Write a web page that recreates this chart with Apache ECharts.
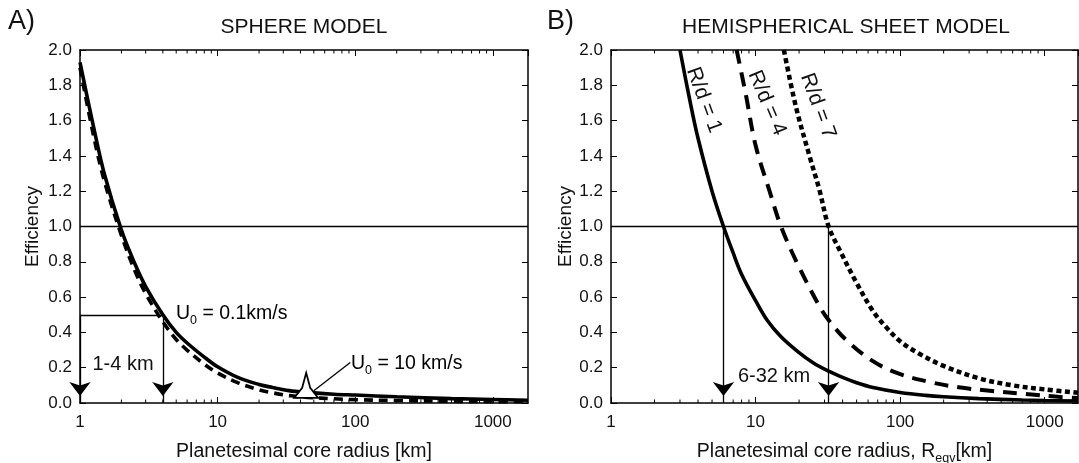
<!DOCTYPE html>
<html>
<head>
<meta charset="utf-8">
<script src="https://cdn.jsdelivr.net/npm/echarts@6/dist/echarts.min.js"></script>
<style>
  html, body { margin: 0; padding: 0; background: #fff; }
  #chart { width: 1079px; height: 463px; }
</style>
</head>
<body>
<div id="chart"></div>
<script>
// ---- panel A: sphere model ----
const radiusA = [1, 1.25, 1.5, 2, 2.5, 3, 4, 5, 6, 8, 10, 14, 20, 25, 33, 45, 70, 100, 200, 500, 1000, 1800];
const slowA = [1.93, 1.57, 1.3, 0.98, 0.79, 0.66, 0.5, 0.4, 0.34, 0.26, 0.205, 0.145, 0.105, 0.088, 0.07, 0.06, 0.05, 0.045, 0.035, 0.025, 0.02, 0.016]; // U0 = 0.1 km/s
const fastA = [1.9, 1.52, 1.26, 0.95, 0.75, 0.62, 0.46, 0.36, 0.3, 0.22, 0.17, 0.115, 0.075, 0.058, 0.042, 0.032, 0.024, 0.019, 0.014, 0.01, 0.008, 0.007]; // U0 = 10 km/s
const arrowsA = [1, 4];        // km, read at efficiency 0.5
const levelA = 0.5;
const starA = [44, 0.1];       // U0 = 10 km/s marker
const leaderA = [[50, 0.07], [92, 0.23]];

// ---- panel B: hemispherical sheet model ----
const radiusRd1 = [3, 3.5, 4, 5, 6, 7, 8, 10, 12, 15, 20, 25, 32, 40, 50, 65, 100, 150, 200, 350, 700, 1000, 1700];
const valuesRd1 = [2.0, 1.72, 1.5, 1.2, 1.0, 0.85, 0.73, 0.58, 0.47, 0.375, 0.285, 0.228, 0.18, 0.145, 0.115, 0.088, 0.06, 0.043, 0.035, 0.025, 0.017, 0.014, 0.011];
const radiusRd4 = [7.4, 8.6, 10, 12.5, 15, 20, 27.6, 32, 42, 64, 95, 158, 254, 433, 735, 1240, 1700];
const valuesRd4 = [2.0, 1.74, 1.46, 1.2, 1.0, 0.77, 0.55, 0.47, 0.36, 0.24, 0.17, 0.12, 0.089, 0.068, 0.051, 0.035, 0.028];
const radiusRd7 = [15.7, 19, 23.6, 27.6, 32, 38, 50, 65, 80, 100, 135, 200, 350, 600, 1000, 1700];
const valuesRd7 = [2.0, 1.68, 1.4, 1.21, 1.0, 0.87, 0.68, 0.52, 0.43, 0.35, 0.28, 0.21, 0.14, 0.10, 0.077, 0.058];
const arrowsB = [6, 32];       // km, read at efficiency 1.0

const minorTicks = [2, 3, 4, 5, 6, 7, 8, 9, 20, 30, 40, 50, 60, 70, 80, 90, 200, 300, 400, 500, 600, 700, 800, 900];
const maxA = 1800, maxB = 1700;

const font = 'Liberation Sans, Arial, Helvetica, sans-serif';
const ink = '#111';

function pairs(xs, ys) { return xs.map((x, i) => [x, ys[i]]); }

function xAxisFor(gridIndex, max, position) {
  return {
    type: 'log', logBase: 10, gridIndex, min: 1, max, position,
    axisLine: { show: true, onZero: false, lineStyle: { color: '#000', width: 1.5 } },
    axisTick: { show: true, inside: true, length: 6, lineStyle: { color: '#000', width: 1 } },
    axisLabel: {
      show: position === 'bottom', color: ink, fontSize: 17, fontFamily: font, margin: 11,
      formatter: v => String(Math.round(v))
    },
    splitLine: { show: false }
  };
}

function yAxisFor(gridIndex, position, nameGap) {
  return {
    type: 'value', gridIndex, min: 0, max: 2, interval: 0.2, position,
    axisLine: { show: true, lineStyle: { color: '#000', width: 1.5 } },
    axisTick: { show: true, inside: true, length: 6, lineStyle: { color: '#000', width: 1 } },
    axisLabel: { show: position === 'left', color: ink, fontSize: 17, fontFamily: font, margin: 8,
      formatter: v => v.toFixed(1) },
    splitLine: { show: false },
    name: position === 'left' ? 'Efficiency' : '',
    nameLocation: 'middle', nameGap,
    nameTextStyle: { color: ink, fontSize: 19, fontFamily: font }
  };
}

const subRich = {
  n: { fontSize: 19.5, fontFamily: font, color: ink, lineHeight: 26 },
  s: { fontSize: 12.5, fontFamily: font, color: ink, lineHeight: 12, verticalAlign: 'bottom' }
};

function minorTickSeries(xi, yi, max) {
  return {
    type: 'custom', xAxisIndex: xi, yAxisIndex: yi, silent: true, clip: false,
    data: minorTicks.filter(v => v < max).map(v => [v, 0]),
    renderItem: (params, api) => {
      const b = api.coord([api.value(0), 0]);
      const t = api.coord([api.value(0), 2]);
      return {
        type: 'group',
        children: [
          { type: 'line', shape: { x1: b[0], y1: b[1], x2: b[0], y2: b[1] - 3.5 }, style: { stroke: '#000', lineWidth: 1 } },
          { type: 'line', shape: { x1: t[0], y1: t[1], x2: t[0], y2: t[1] + 3.5 }, style: { stroke: '#000', lineWidth: 1 } }
        ]
      };
    }
  };
}

const arrowEnd = { symbol: 'arrow', symbolSize: [16, 14], symbolOffset: [0, '50%'] };

function curve(xi, yi, data, type, width) {
  return {
    type: 'line', xAxisIndex: xi, yAxisIndex: yi, data, smooth: 0.35,
    showSymbol: false, symbol: 'none', silent: true,
    lineStyle: { color: '#000', width, type, cap: 'butt' }
  };
}

const chart = echarts.init(document.getElementById('chart'), null, { renderer: 'canvas' });

const markLineStyle = { color: '#000', width: 1.3, type: 'solid' };

const seriesA1 = curve(0, 0, pairs(radiusA, slowA), 'solid', 3.6);
seriesA1.markLine = {
  silent: true, symbol: ['none', 'none'], label: { show: false }, lineStyle: markLineStyle, animation: false,
  data: [
    { yAxis: 1 },
    [{ coord: [arrowsA[0], levelA] }, { coord: [arrowsA[1], levelA] }],
    [{ coord: [arrowsA[0], levelA] }, Object.assign({ coord: [arrowsA[0], 0] }, arrowEnd)],
    [{ coord: [arrowsA[1], levelA] }, Object.assign({ coord: [arrowsA[1], 0] }, arrowEnd)],
    [{ coord: leaderA[0] }, { coord: leaderA[1] }]
  ]
};

const seriesB1 = curve(2, 2, pairs(radiusRd1, valuesRd1), 'solid', 3.6);
seriesB1.markLine = {
  silent: true, symbol: ['none', 'none'], label: { show: false }, lineStyle: markLineStyle, animation: false,
  data: [
    { yAxis: 1 },
    [{ coord: [arrowsB[0], 1] }, Object.assign({ coord: [arrowsB[0], 0] }, arrowEnd)],
    [{ coord: [arrowsB[1], 1] }, Object.assign({ coord: [arrowsB[1], 0] }, arrowEnd)]
  ]
};

chart.setOption({
  animation: false,
  backgroundColor: '#fff',
  grid: [
    { left: 80, top: 50, width: 448, height: 353, containLabel: false, outerBoundsMode: 'none' },
    { left: 611, top: 50, width: 467, height: 353, containLabel: false, outerBoundsMode: 'none' }
  ],
  xAxis: [
    Object.assign(xAxisFor(0, maxA, 'bottom'), {
      name: 'Planetesimal core radius [km]', nameLocation: 'middle', nameGap: 36,
      nameTextStyle: { color: ink, fontSize: 19.5, fontFamily: font, lineHeight: 26 }
    }),
    xAxisFor(0, maxA, 'top'),
    Object.assign(xAxisFor(1, maxB, 'bottom'), {
      name: '{n|Planetesimal core radius, R}{s|eqv}{n|[km]}', nameLocation: 'middle', nameGap: 36,
      nameTextStyle: { rich: subRich }
    }),
    xAxisFor(1, maxB, 'top')
  ],
  yAxis: [
    yAxisFor(0, 'left', 38),
    yAxisFor(0, 'right', 0),
    yAxisFor(1, 'left', 34),
    yAxisFor(1, 'right', 0)
  ],
  series: [
    seriesA1,
    curve(0, 0, pairs(radiusA, fastA), [9, 6], 3.6),
    {
      type: 'scatter', xAxisIndex: 0, yAxisIndex: 0, silent: true, z: 10,
      data: [starA],
      symbol: 'path://M12,0 L16,15 L24,25 L0,25 L8,15 Z',
      symbolSize: [24, 25],
      itemStyle: { color: '#fff', borderColor: '#000', borderWidth: 1.8, opacity: 1 }
    },
    minorTickSeries(0, 0, maxA),
    seriesB1,
    curve(2, 2, pairs(radiusRd4, valuesRd4), [14, 9], 4),
    curve(2, 2, pairs(radiusRd7, valuesRd7), [5, 3.5], 4.5),
    minorTickSeries(2, 2, maxB)
  ],
  graphic: [
    { type: 'text', x: 8, y: 8, style: { text: 'A)', font: '27px ' + font, fill: ink } },
    { type: 'text', x: 547, y: 8, style: { text: 'B)', font: '27px ' + font, fill: ink } },
    { type: 'text', x: 304, y: 27, style: { text: 'SPHERE MODEL', font: '21px ' + font, fill: ink, align: 'center', verticalAlign: 'middle' } },
    { type: 'text', x: 846, y: 27, style: { text: 'HEMISPHERICAL SHEET MODEL', font: '21px ' + font, fill: ink, align: 'center', verticalAlign: 'middle' } },
    { type: 'text', x: 123, y: 364, style: { text: '1-4 km', font: '20px ' + font, fill: ink, align: 'center', verticalAlign: 'middle' } },
    { type: 'text', x: 176, y: 301, style: { text: '{n|U}{s|0}{n| = 0.1km/s}', rich: subRich, verticalAlign: 'top' } },
    { type: 'text', x: 351, y: 351, style: { text: '{n|U}{s|0}{n| = 10 km/s}', rich: subRich, verticalAlign: 'top' } },
    { type: 'text', x: 774, y: 376, style: { text: '6-32 km', font: '20px ' + font, fill: ink, align: 'center', verticalAlign: 'middle' } },
    { type: 'text', x: 704, y: 100, rotation: -70 * Math.PI / 180, style: { text: 'R/d = 1', font: '21px ' + font, fill: ink, align: 'center', verticalAlign: 'middle' } },
    { type: 'text', x: 767, y: 103, rotation: -67 * Math.PI / 180, style: { text: 'R/d = 4', font: '21px ' + font, fill: ink, align: 'center', verticalAlign: 'middle' } },
    { type: 'text', x: 818, y: 106, rotation: -70 * Math.PI / 180, style: { text: 'R/d = 7', font: '21px ' + font, fill: ink, align: 'center', verticalAlign: 'middle' } }
  ]
});

window.addEventListener('resize', () => chart.resize());
</script>
</body>
</html>
